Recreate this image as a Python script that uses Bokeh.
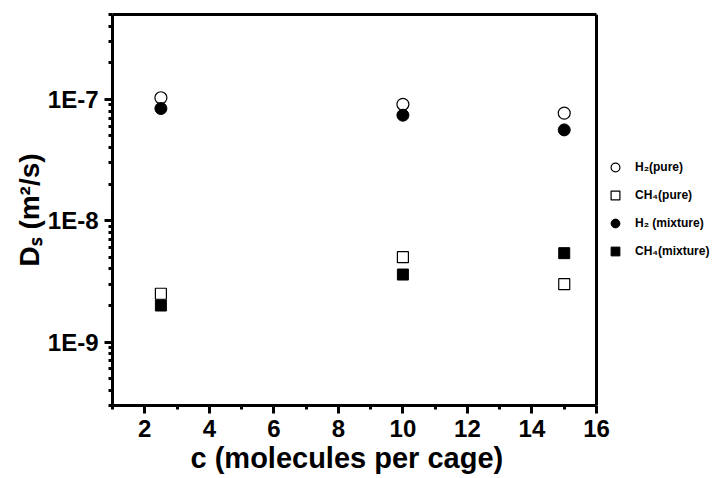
from bokeh.plotting import figure
from bokeh.models import (Range1d, FixedTicker, CustomJSTickFormatter, Legend, LegendItem,
                          LinearAxis, Span, Title)
from bokeh.embed import file_html
from bokeh.resources import INLINE

# ---- data ----
c_values = [2.5, 10, 15]
h2_pure = [1.03e-7, 9.1e-8, 7.7e-8]
ch4_pure = [2.5e-9, 5.0e-9, 3.0e-9]
h2_mix = [8.4e-8, 7.4e-8, 5.6e-8]
ch4_mix = [2.0e-9, 3.6e-9, 5.4e-9]

x_major = [2, 4, 6, 8, 10, 12, 14, 16]
x_minor = [1, 3, 5, 7, 9, 11, 13, 15]
y_major = [1e-9, 1e-8, 1e-7]
y_minor = [m * 10.0 ** e for e in range(-10, -6) for m in range(2, 10)]

X_MIN, X_MAX = 1, 16
Y_MIN, Y_MAX = 3e-10, 5e-7

FONT = "Liberation Sans"

# layout (pixels): plot box from 112 to 596 horizontally; frame extended to the
# right edge so that the legend (outside the box) is not clipped
W, H = 717, 478
BOX_L, BOX_R = 112, 596
x_end = X_MIN + (W - BOX_L) / (BOX_R - BOX_L) * (X_MAX - X_MIN)

p = figure(width=W, height=H, output_backend="svg", toolbar_location=None,
           y_axis_type="log", x_range=Range1d(X_MIN, x_end), y_range=Range1d(Y_MIN, Y_MAX),
           min_border_left=BOX_L, min_border_top=14, min_border_right=0, min_border_bottom=73)

p.background_fill_color = "white"
p.border_fill_color = "white"
p.outline_line_color = None
p.xgrid.visible = False
p.ygrid.visible = False

# axes
p.xaxis.ticker = FixedTicker(ticks=x_major, minor_ticks=x_minor)
p.xaxis.bounds = (X_MIN, X_MAX)
p.yaxis.ticker = FixedTicker(ticks=y_major, minor_ticks=y_minor)
p.yaxis.formatter = CustomJSTickFormatter(code="return '1E' + Math.round(Math.log10(tick));")

for ax in (p.xaxis[0], p.yaxis[0]):
    ax.axis_line_color = "black"
    ax.axis_line_width = 3
    ax.major_tick_line_color = "black"
    ax.major_tick_line_width = 3
    ax.major_tick_in = 0
    ax.major_tick_out = 8
    ax.minor_tick_line_color = "black"
    ax.minor_tick_line_width = 3
    ax.minor_tick_in = 0
    ax.minor_tick_out = 4
    ax.major_label_text_font = FONT
    ax.major_label_text_font_style = "bold"
    ax.major_label_text_font_size = "24px"
    ax.major_label_text_color = "black"
    ax.axis_label_text_font = FONT
    ax.axis_label_text_font_style = "bold"
    ax.axis_label_text_color = "black"

p.xaxis.major_label_standoff = 6

p.yaxis.axis_label = "D\u209b (m\u00b2/s)"
p.yaxis.axis_label_text_font_size = "28px"
p.yaxis.major_label_standoff = 6
p.yaxis.axis_label_standoff = 0

# x-axis title centred under the box (not under the extended frame)
xtitle = Title(text="c (molecules per cage)", align="left", offset=78, standoff=0,
               text_font=FONT, text_font_style="bold", text_font_size="29px",
               text_color="black")
p.add_layout(xtitle, "below")

# top edge of the box (axis without ticks) and right edge (span)
top_axis = LinearAxis(bounds=(X_MIN, X_MAX), ticker=FixedTicker(ticks=[]),
                      axis_line_color="black", axis_line_width=3,
                      major_tick_out=0, major_tick_in=0, minor_tick_out=0, minor_tick_in=0)
p.add_layout(top_axis, "above")
p.add_layout(Span(location=X_MAX, dimension="height", line_color="black", line_width=3))

# data marks (pure first, mixture on top)
r1 = p.scatter(c_values, h2_pure, marker="circle", size=12, fill_color="white",
               line_color="black", line_width=1.2)
r2 = p.scatter(c_values, ch4_pure, marker="square", size=11, fill_color="white",
               line_color="black", line_width=1.2)
r3 = p.scatter(c_values, h2_mix, marker="circle", size=12, fill_color="black",
               line_color="black", line_width=1)
r4 = p.scatter(c_values, ch4_mix, marker="square", size=11, fill_color="black",
               line_color="black", line_width=1)

legend = Legend(items=[
    LegendItem(label="H\u2082(pure)", renderers=[r1]),
    LegendItem(label="CH\u2084(pure)", renderers=[r2]),
    LegendItem(label="H\u2082 (mixture)", renderers=[r3]),
    LegendItem(label="CH\u2084(mixture)", renderers=[r4]),
], location=(BOX_R - BOX_L + 8, 142))
legend.border_line_color = None
legend.background_fill_alpha = 0
legend.padding = 0
legend.margin = 0
legend.spacing = 4
legend.glyph_width = 22
legend.glyph_height = 24
legend.label_height = 24
legend.label_standoff = 9
legend.label_text_font = FONT
legend.label_text_font_style = "bold"
legend.label_text_font_size = "12px"
legend.label_text_color = "black"
p.add_layout(legend, "center")

open("out.html", "w").write(file_html(p, INLINE))
